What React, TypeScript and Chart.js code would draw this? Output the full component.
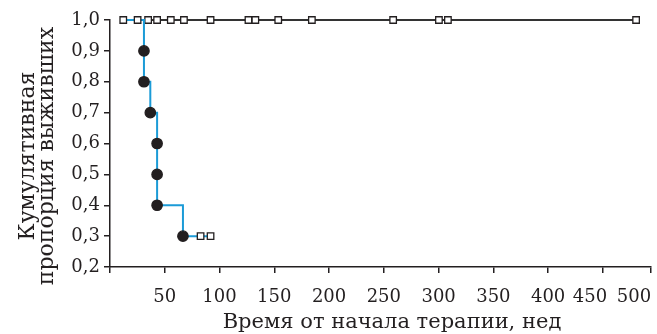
import { useEffect, useRef } from "react";
import { Chart, registerables } from "chart.js";

Chart.register(...registerables);

// ---- data ----
const yTickValues = [0.2, 0.3, 0.4, 0.5, 0.6, 0.7, 0.8, 0.9, 1.0];
const xTickValues = [0, 50, 100, 150, 200, 250, 300, 350, 400, 450];
const xAxisEnd = 494;
const xTickLabels = ["", "50", "100", "150", "200", "250", "300", "350", "400", "450", "500"];

// Group without events (all censored, black)
const group1Weeks = [34.8, 43, 55.5, 67.5, 91.8, 126.4, 132.7, 153.6, 184.3, 258.5, 300.3, 308.5, 480.3];
const group1Survival = [1.0, 1.0, 1.0, 1.0, 1.0, 1.0, 1.0, 1.0, 1.0, 1.0, 1.0, 1.0, 1.0];

// Group with events (blue)
const group2Weeks = [12.1, 25.2, 31, 31, 36.8, 43, 43, 43, 66.6, 82.7, 91.8];
const group2Survival = [1.0, 1.0, 0.9, 0.8, 0.7, 0.6, 0.5, 0.4, 0.3, 0.3, 0.3];
const group2Censored = [true, true, false, false, false, false, false, false, false, true, true];

const xTitle = "Время от начала терапии, нед";
const yTitleLines = ["Кумулятивная", "пропорция выживших"];

const FONT = "'DejaVu Serif', serif";
const INK = "#231f20";
const BLACK_LINE = "#333333";
const BLUE_LINE = "#1b9bd7";

const titlesPlugin = {
  id: "axisTitles",
  beforeDraw(chart: any) {
    const xs = chart.scales.x;
    const items = xs.getLabelItems(chart.chartArea);
    if (!(items as any)._shifted) {
      items.forEach((it: any) => {
        if (it.label === "450") it.options.translation[0] -= 13;
      });
      (items as any)._shifted = true;
    }
  },
  afterDraw(chart: any) {
    const ctx = chart.ctx as CanvasRenderingContext2D;
    ctx.save();
    ctx.fillStyle = INK;
    ctx.textAlign = "center";
    ctx.textBaseline = "alphabetic";
    ctx.font = `21px ${FONT}`;
    ctx.fillText(xTitle, 392, 328);
    ctx.font = `22px ${FONT}`;
    ctx.translate(34, 156);
    ctx.rotate(-Math.PI / 2);
    yTitleLines.forEach((line, i) => ctx.fillText(line, 0, i * 19));
    ctx.restore();
  },
};

export default function App() {
  const ref = useRef<HTMLCanvasElement | null>(null);

  useEffect(() => {
    if (!ref.current) return;
    const chart = new Chart(ref.current, {
      type: "scatter",
      data: {
        datasets: [
          {
            label: "group2",
            data: group2Weeks.map((x, i) => ({ x, y: group2Survival[i] })),
            showLine: true,
            stepped: "before",
            clip: false,
            borderColor: BLUE_LINE,
            borderWidth: 2,
            pointStyle: group2Censored.map((c) => (c ? "rect" : "circle")) as any,
            pointRadius: group2Censored.map((c) => (c ? 4.6 : 5.2)),
            pointBackgroundColor: group2Censored.map((c) => (c ? "#ffffff" : "#231f20")),
            pointBorderColor: "#231f20",
            pointBorderWidth: 1.3,
          } as any,
          {
            label: "group1",
            data: group1Weeks.map((x, i) => ({ x, y: group1Survival[i] })),
            showLine: true,
            stepped: "before",
            clip: false,
            borderColor: BLACK_LINE,
            borderWidth: 2,
            pointStyle: "rect",
            pointRadius: 4.6,
            pointBackgroundColor: "#ffffff",
            pointBorderColor: "#231f20",
            pointBorderWidth: 1.3,
          } as any,
        ],
      },
      options: {
        animation: false,
        responsive: true,
        maintainAspectRatio: false,
        layout: { padding: { top: 20, right: 4, left: 0, bottom: 0 } },
        plugins: { legend: { display: false }, tooltip: { enabled: false } },
        scales: {
          x: {
            type: "linear",
            min: 0,
            max: xAxisEnd,
            afterBuildTicks: (scale: any) => {
              scale.ticks = [...xTickValues, xAxisEnd].map((v) => ({ value: v }));
            },
            afterFit: (scale: any) => {
              scale.height = 67;
              scale.paddingLeft = 0;
              scale.paddingRight = 0;
            },
            ticks: {
              autoSkip: false,
              maxRotation: 0,
              align: "inner",
              padding: 14,
              color: INK,
              font: { family: FONT, size: 18 },
              callback: (_v: any, i: number) => xTickLabels[i],
            },
            grid: { display: true, drawOnChartArea: false, drawTicks: true, tickLength: 6, color: INK, lineWidth: 1.5 },
            border: { display: true, color: INK, width: 1.5 },
          },
          y: {
            type: "linear",
            min: 0.2,
            max: 1.0,
            afterBuildTicks: (scale: any) => {
              scale.ticks = yTickValues.map((v) => ({ value: v }));
            },
            afterFit: (scale: any) => {
              scale.width = 110;
            },
            ticks: {
              padding: 4,
              color: INK,
              font: { family: FONT, size: 18 },
              callback: (v: any) => Number(v).toFixed(1).replace(".", ","),
            },
            grid: { display: true, drawOnChartArea: false, drawTicks: true, tickLength: 6, color: INK, lineWidth: 1.5 },
            border: { display: true, color: INK, width: 1.5 },
          },
        },
      },
      plugins: [titlesPlugin],
    });
    return () => chart.destroy();
  }, []);

  return (
    <div style={{ position: "fixed", left: 0, top: 0, width: 657, height: 334, background: "#fff" }}>
      <canvas ref={ref} />
    </div>
  );
}
